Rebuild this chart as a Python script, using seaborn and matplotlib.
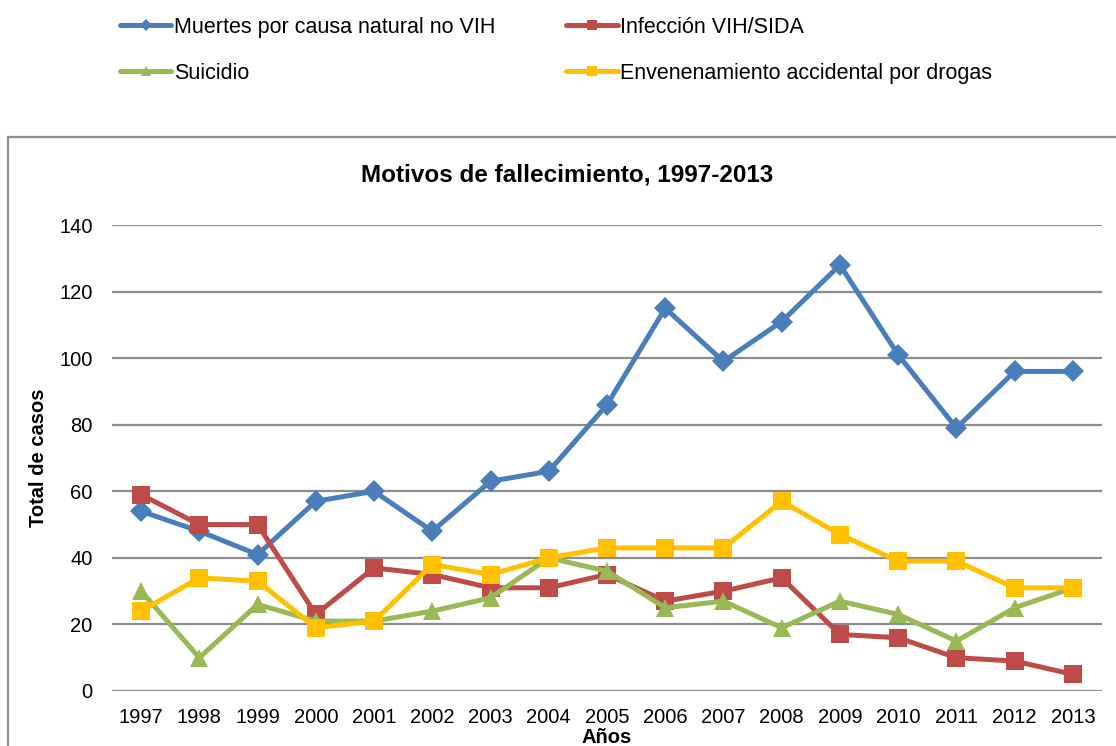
"""
Motivos de fallecimiento, 1997-2013
"""

# %%
import pandas as pd
import matplotlib.pyplot as plt
import seaborn as sns
from matplotlib.patches import Rectangle

# %%
years = list(range(1997, 2014))

natural = [54, 48, 41, 57, 60, 48, 63, 66, 86, 115, 99, 111, 128, 101, 79, 96, 96]
vih = [59, 50, 50, 23, 37, 35, 31, 31, 35, 27, 30, 34, 17, 16, 10, 9, 5]
suicidio = [30, 10, 26, 21, 21, 24, 28, 40, 36, 25, 27, 19, 27, 23, 15, 25, 31]
drogas = [24, 34, 33, 19, 21, 38, 35, 40, 43, 43, 43, 57, 47, 39, 39, 31, 31]

series_names = [
    "Muertes por causa natural no VIH",
    "Infección VIH/SIDA",
    "Suicidio",
    "Envenenamiento accidental por drogas",
]
colors = ["#4A7EBB", "#BE4B48", "#98B954", "#FFC000"]
markers = ["D", "s", "^", "s"]
msizes = [11, 13, 13, 13]

df = pd.DataFrame(
    {"year": years, series_names[0]: natural, series_names[1]: vih,
     series_names[2]: suicidio, series_names[3]: drogas}
)
long = df.melt(id_vars="year", var_name="serie", value_name="casos")

# %%
sns.set_style("white")
plt.rcParams["font.family"] = ["Liberation Sans", "DejaVu Sans"]
plt.rcParams["text.color"] = "black"
plt.rcParams["xtick.color"] = "black"
plt.rcParams["ytick.color"] = "black"
plt.rcParams["axes.labelcolor"] = "black"

fig = plt.figure(figsize=(11.16, 7.46), dpi=100)
ax = fig.add_axes([112 / 1116, 1 - 691 / 746, (1102 - 112) / 1116, (691 - 225) / 746])

for name, c, m, ms in zip(series_names, colors, markers, msizes):
    sns.lineplot(
        data=long[long["serie"] == name], x="year", y="casos", ax=ax,
        color=c, marker=m, markersize=ms, markeredgewidth=0,
        linewidth=3.6, label=name, legend=False,
    )

ax.set_xlim(1996.5, 2013.5)
ax.set_ylim(0, 140)
ax.set_xticks(years)
ax.set_xticklabels([str(y) for y in years], fontsize=14.5)
ax.set_yticks(range(0, 141, 20))
ax.tick_params(axis="y", labelsize=14.5, length=0, pad=14)
ax.tick_params(axis="x", length=0, pad=12)
ax.yaxis.grid(True, color="#8C8C8C", linewidth=1.6)
ax.set_axisbelow(True)
for s in ax.spines.values():
    s.set_visible(False)

ax.set_xlabel("Años", fontsize=14.5, fontweight="bold", labelpad=1)
ax.set_ylabel("Total de casos", fontsize=14.5, fontweight="bold", labelpad=8)
fig.text(567 / 1116, 1 - 175 / 746, "Motivos de fallecimiento, 1997-2013",
         ha="center", va="center", fontsize=17.5, fontweight="bold")

# chart border
fig.patches.append(Rectangle((8 / 1116, -0.05), 1.1, 1 - 137 / 746 + 0.05,
                             transform=fig.transFigure, fill=False,
                             edgecolor="#8C8C8C", linewidth=1.6))

# legend in row order (matplotlib fills columns first)
handles, labels = ax.get_legend_handles_labels()
order = [0, 2, 1, 3]
fig.legend([handles[i] for i in order], [labels[i] for i in order],
           loc="upper left", bbox_to_anchor=(109 / 1116, 1 - 6 / 746),
           ncol=2, frameon=False, borderpad=0, handlelength=2.4,
           handletextpad=0.1, columnspacing=3.3, labelspacing=1.15,
           markerscale=0.55, prop={"size": 15.5})

fig.savefig("out.png", dpi=100)
